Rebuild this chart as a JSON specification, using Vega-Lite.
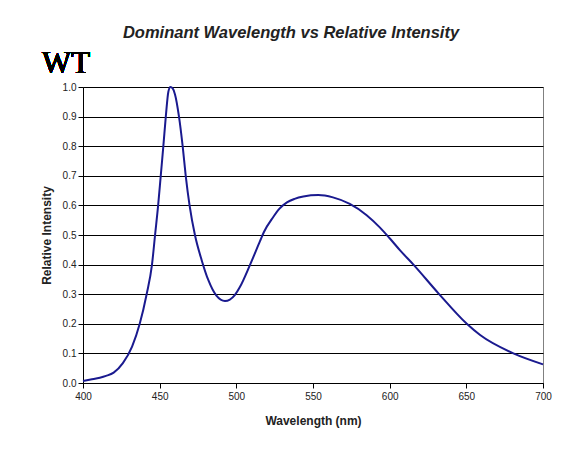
{
  "$schema": "https://vega.github.io/schema/vega-lite/v6.json",
  "width": 460,
  "height": 296,
  "autosize": {"type": "none"},
  "padding": {"left": 83, "top": 87, "right": 27, "bottom": 67},
  "background": "white",
  "title": {
    "text": "Dominant Wavelength vs Relative Intensity",
    "font": "Liberation Sans",
    "fontSize": 16.5,
    "fontWeight": "bold",
    "fontStyle": "italic",
    "color": "#222222",
    "anchor": "middle",
    "frame": "group",
    "dx": -22,
    "baseline": "alphabetic",
    "offset": -6
  },
  "config": {
    "view": {"stroke": "#808080", "strokeWidth": 1},
    "axis": {
      "labelFont": "Liberation Sans",
      "labelFontSize": 10,
      "labelColor": "#222222",
      "titleFont": "Liberation Sans",
      "titleFontSize": 12,
      "titleFontWeight": "bold",
      "titleColor": "#222222",
      "domainColor": "#000000",
      "domainWidth": 1,
      "tickColor": "#000000",
      "tickSize": 5,
      "labelFlush": false,
      "labelOverlap": false
    }
  },
  "data": {
    "values": [
      {"wl": 400, "ri": 0.007},
      {"wl": 405, "ri": 0.012},
      {"wl": 411, "ri": 0.018},
      {"wl": 415, "ri": 0.024},
      {"wl": 420, "ri": 0.035},
      {"wl": 426, "ri": 0.067},
      {"wl": 432, "ri": 0.123},
      {"wl": 437, "ri": 0.2},
      {"wl": 441.5, "ri": 0.3},
      {"wl": 445, "ri": 0.4},
      {"wl": 447, "ri": 0.5},
      {"wl": 449, "ri": 0.6},
      {"wl": 450.7, "ri": 0.7},
      {"wl": 452.4, "ri": 0.8},
      {"wl": 454, "ri": 0.9},
      {"wl": 455.7, "ri": 0.985},
      {"wl": 457, "ri": 1.0},
      {"wl": 458.5, "ri": 0.995},
      {"wl": 460, "ri": 0.975},
      {"wl": 462.6, "ri": 0.9},
      {"wl": 465, "ri": 0.8},
      {"wl": 467, "ri": 0.7},
      {"wl": 469.5, "ri": 0.6},
      {"wl": 473, "ri": 0.5},
      {"wl": 477.4, "ri": 0.415},
      {"wl": 481.7, "ri": 0.348},
      {"wl": 487, "ri": 0.295},
      {"wl": 492.6, "ri": 0.277},
      {"wl": 499, "ri": 0.297},
      {"wl": 502.4, "ri": 0.325},
      {"wl": 509, "ri": 0.4},
      {"wl": 515.5, "ri": 0.48},
      {"wl": 518, "ri": 0.51},
      {"wl": 524, "ri": 0.56},
      {"wl": 528, "ri": 0.588},
      {"wl": 533, "ri": 0.61},
      {"wl": 538, "ri": 0.622},
      {"wl": 543.7, "ri": 0.63},
      {"wl": 553.5, "ri": 0.635},
      {"wl": 563, "ri": 0.627},
      {"wl": 574, "ri": 0.605},
      {"wl": 585, "ri": 0.567},
      {"wl": 593.7, "ri": 0.525},
      {"wl": 600, "ri": 0.489},
      {"wl": 606.8, "ri": 0.448},
      {"wl": 615.5, "ri": 0.4},
      {"wl": 631.8, "ri": 0.303},
      {"wl": 650.3, "ri": 0.2},
      {"wl": 659, "ri": 0.162},
      {"wl": 680.7, "ri": 0.1},
      {"wl": 700, "ri": 0.063}
    ]
  },
  "layer": [
    {
      "mark": {"type": "line", "color": "#1a1a8f", "strokeWidth": 2, "interpolate": "monotone"},
      "encoding": {
        "x": {
          "field": "wl",
          "type": "quantitative",
          "scale": {"domain": [400, 700], "nice": false, "zero": false},
          "axis": {
            "title": "Wavelength (nm)",
            "values": [400, 450, 500, 550, 600, 650, 700],
            "grid": false,
            "ticks": true,
            "labelPadding": 3,
            "titlePadding": 14
          }
        },
        "y": {
          "field": "ri",
          "type": "quantitative",
          "scale": {"domain": [0, 1], "nice": false},
          "axis": {
            "title": "Relative Intensity",
            "values": [0, 0.1, 0.2, 0.3, 0.4, 0.5, 0.6, 0.7, 0.8, 0.9, 1.0],
            "format": ".1f",
            "grid": true,
            "ticks": true,
            "gridColor": "#000000",
            "gridOpacity": 1,
            "gridWidth": 1,
            "labelPadding": 2,
            "titlePadding": 9
          }
        }
      }
    },
    {
      "mark": {
        "type": "text",
        "text": "WT",
        "font": "Times New Roman",
        "fontSize": 31,
        "fontWeight": "normal",
        "color": "#000000",
        "align": "left",
        "baseline": "alphabetic",
        "dx": -41,
        "dy": -14,
        "clip": false
      },
      "encoding": {
        "x": {
          "datum": 400,
          "type": "quantitative",
          "axis": {
            "title": "Wavelength (nm)",
            "values": [400, 450, 500, 550, 600, 650, 700],
            "grid": false,
            "ticks": true,
            "labelPadding": 3,
            "titlePadding": 14
          }
        },
        "y": {
          "datum": 1,
          "type": "quantitative",
          "axis": {
            "title": "Relative Intensity",
            "values": [0, 0.1, 0.2, 0.3, 0.4, 0.5, 0.6, 0.7, 0.8, 0.9, 1.0],
            "format": ".1f",
            "grid": true,
            "ticks": true,
            "gridColor": "#000000",
            "gridOpacity": 1,
            "gridWidth": 1,
            "labelPadding": 2,
            "titlePadding": 9
          }
        }
      }
    }
  ]
}
